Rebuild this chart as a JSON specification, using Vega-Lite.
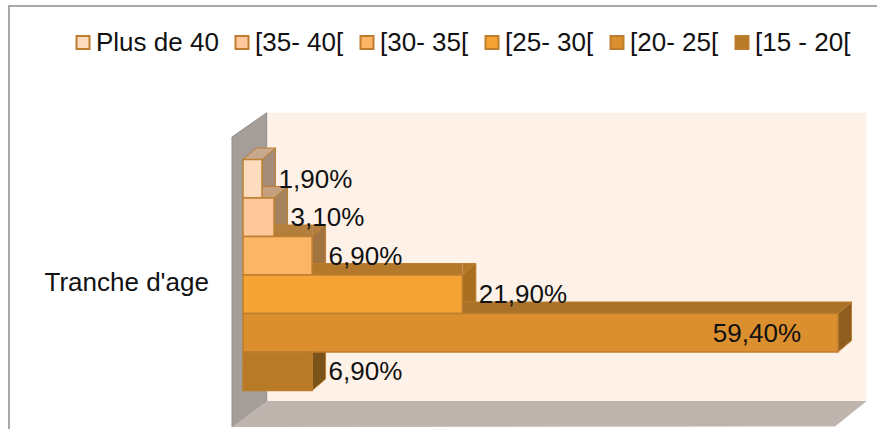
{
  "$schema": "https://vega.github.io/schema/vega-lite/v6.json",
  "width": 870,
  "height": 425,
  "padding": {"left": 9, "top": 6, "right": 0, "bottom": 0},
  "autosize": {"type": "none"},
  "background": "white",
  "view": {"stroke": "#8c8c8c", "strokeWidth": 1.5, "fill": "white"},
  "config": {
    "font": "Liberation Sans",
    "text": {"font": "Liberation Sans", "fontSize": 26, "color": "#111111"},
    "legend": {"labelFont": "Liberation Sans"}
  },
  "data": {
    "values": [
      {"serie": "Plus de 40", "part": 1.9, "etiquette": "1,90%"},
      {"serie": "[35- 40[", "part": 3.1, "etiquette": "3,10%"},
      {"serie": "[30- 35[", "part": 6.9, "etiquette": "6,90%"},
      {"serie": "[25- 30[", "part": 21.9, "etiquette": "21,90%"},
      {"serie": "[20- 25[", "part": 59.4, "etiquette": "59,40%"},
      {"serie": "[15 - 20[", "part": 6.9, "etiquette": "6,90%"}
    ]
  },
  "encoding": {
    "y": {
      "field": "serie",
      "type": "nominal",
      "axis": null,
      "scale": {
        "domain": ["Plus de 40", "[35- 40[", "[30- 35[", "[25- 30[", "[20- 25[", "[15 - 20["],
        "range": [153.5, 384.5],
        "paddingInner": 0,
        "paddingOuter": 0
      }
    },
    "x": {
      "field": "part",
      "type": "quantitative",
      "axis": null,
      "scale": {"domain": [0, 59.4], "range": [234, 829], "nice": false, "zero": false}
    }
  },
  "layer": [
    {
      "description": "back wall",
      "data": {"values": [{"serie": "[20- 25[", "part": 0}]},
      "mark": {"type": "point", "filled": true, "opacity": 1, "size": 1000000, "fill": "#FEF1E7",
        "shape": "M.0474,-.44 L1.2474,-.44 L1.2474,.1366 L.0474,.1366 Z"}
    },
    {
      "description": "side wall",
      "data": {"values": [{"serie": "[20- 25[", "part": 0}]},
      "mark": {"type": "point", "filled": true, "opacity": 1, "size": 1000000, "fill": "#A59E98", "stroke": "#8f8f8f", "strokeWidth": 1,
        "shape": "M.0474,-.44 L-.022,-.3915 L-.022,.1885 L.0474,.1366 Z"}
    },
    {
      "description": "floor",
      "data": {"values": [{"serie": "[20- 25[", "part": 0}]},
      "mark": {"type": "point", "filled": true, "opacity": 1, "size": 1000000, "fill": "#BFB4AE",
        "shape": "M.0474,.1366 L1.2474,.1366 L1.184,.1875 L-.022,.1885 Z"}
    },
    {
      "description": "right-hand end of each bar",
      "mark": {"type": "point", "filled": true, "opacity": 1, "size": 10000, "stroke": "#BD7F2F", "strokeWidth": 1,
        "shape": "M0,-.385 L.27,-.615 L.27,.155 L0,.385 Z"},
      "encoding": {
        "fill": {
          "field": "serie", "type": "nominal", "legend": null,
          "scale": {
            "domain": ["Plus de 40", "[35- 40[", "[30- 35[", "[25- 30[", "[20- 25[", "[15 - 20["],
            "range": ["#A28B78", "#A5835F", "#A27442", "#A96F20", "#8F5E1F", "#7B5318"]
          }
        }
      }
    },
    {
      "description": "upper face of each bar, straight part",
      "mark": {"type": "bar", "height": 11.5, "yOffset": -25, "x2Offset": 13.5, "opacity": 1},
      "encoding": {
        "x2": {"datum": 0},
        "fill": {
          "field": "serie", "type": "nominal", "legend": null,
          "scale": {
            "domain": ["Plus de 40", "[35- 40[", "[30- 35[", "[25- 30[", "[20- 25[", "[15 - 20["],
            "range": ["#C9A98E", "#C4A07D", "#B47E3C", "#B5792C", "#A9712A", "#8F6020"]
          }
        }
      }
    },
    {
      "description": "upper face, slanted start",
      "mark": {"type": "point", "filled": true, "opacity": 1, "size": 10000, "stroke": "#BD7F2F", "strokeWidth": 1,
        "shape": "M.27,-.615 L0,-.385 L.27,-.385"},
      "encoding": {
        "x": {"datum": 0},
        "fill": {
          "field": "serie", "type": "nominal", "legend": null,
          "scale": {
            "domain": ["Plus de 40", "[35- 40[", "[30- 35[", "[25- 30[", "[20- 25[", "[15 - 20["],
            "range": ["#C9A98E", "#C4A07D", "#B47E3C", "#B5792C", "#A9712A", "#8F6020"]
          }
        }
      }
    },
    {
      "description": "upper face, slanted end",
      "mark": {"type": "point", "filled": true, "opacity": 1, "size": 10000, "stroke": "#BD7F2F", "strokeWidth": 1,
        "shape": "M0,-.385 L.27,-.615 L0,-.615"},
      "encoding": {
        "fill": {
          "field": "serie", "type": "nominal", "legend": null,
          "scale": {
            "domain": ["Plus de 40", "[35- 40[", "[30- 35[", "[25- 30[", "[20- 25[", "[15 - 20["],
            "range": ["#C9A98E", "#C4A07D", "#B47E3C", "#B5792C", "#A9712A", "#8F6020"]
          }
        }
      }
    },
    {
      "description": "rear edge of the upper face",
      "mark": {"type": "rule", "stroke": "#BD7F2F", "strokeWidth": 1, "yOffset": -30.75, "x2Offset": 13.5},
      "encoding": {"x2": {"datum": 0}}
    },
    {
      "description": "front of each bar, carries the legend",
      "mark": {"type": "bar", "stroke": "#BD7F2F", "strokeWidth": 1.5, "opacity": 1},
      "encoding": {
        "fill": {
          "field": "serie", "type": "nominal",
          "scale": {
            "domain": ["Plus de 40", "[35- 40[", "[30- 35[", "[25- 30[", "[20- 25[", "[15 - 20["],
            "range": ["#FDDBBF", "#FEC89C", "#FCB565", "#F6A335", "#DB8F2E", "#B87A27"]
          },
          "legend": {
            "title": null, "orient": "none", "legendX": 61, "legendY": 23.5,
            "direction": "horizontal", "columns": 6, "gridAlign": "none",
            "symbolType": "square", "symbolSize": 169, "symbolStrokeColor": "#BD7F2F", "symbolStrokeWidth": 2,
            "labelFontSize": 26, "labelColor": "#111111", "labelOffset": 0, "labelLimit": 300,
            "columnPadding": 10, "symbolOpacity": 1
          }
        }
      }
    },
    {
      "description": "value labels past the bar end",
      "transform": [{"filter": "datum.part <= 50"}],
      "mark": {"type": "text", "align": "left", "baseline": "middle", "dx": 16.5, "dy": 1},
      "encoding": {"text": {"field": "etiquette", "type": "nominal"}}
    },
    {
      "description": "value label inside the longest bar",
      "transform": [{"filter": "datum.part > 50"}],
      "mark": {"type": "text", "align": "right", "baseline": "middle", "dx": -37, "dy": 1},
      "encoding": {"text": {"field": "etiquette", "type": "nominal"}}
    },
    {
      "description": "category caption",
      "data": {"values": [{"libelle": "Tranche d'age", "serie": "[25- 30[", "part": -3.4}]},
      "mark": {"type": "text", "align": "right", "baseline": "middle", "dy": -11},
      "encoding": {"text": {"field": "libelle", "type": "nominal"}}
    }
  ],
  "resolve": {"scale": {"fill": "independent"}, "legend": {"fill": "independent"}}
}
